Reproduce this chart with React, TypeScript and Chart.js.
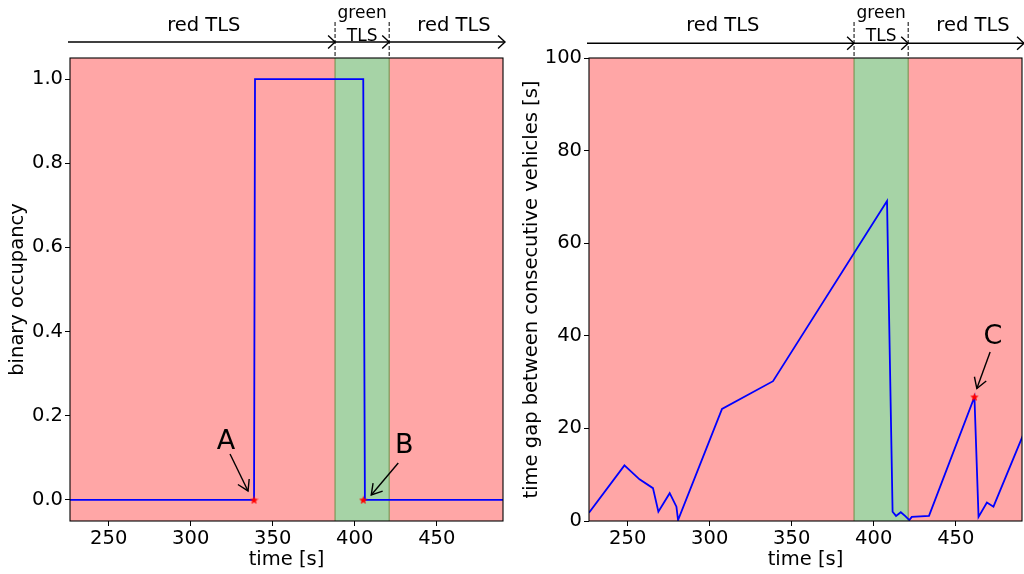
import React, { useEffect, useRef } from "react";
import { Chart, registerables } from "chart.js";

Chart.register(...registerables);

// ---------- data ----------
const xTicks = [250, 300, 350, 400, 450];
const occTicks = [0, 0.2, 0.4, 0.6, 0.8, 1.0];
const gapTicks = [0, 20, 40, 60, 80, 100];
const timeMin = 226.4;
const timeMax = 490.4;
const occMin = -0.05;
const occMax = 1.05;
const gapMin = 0;
const gapMax = 100;
const greenStart = 388;
const greenEnd = 421;

const occTime = [220, 338.6, 339.2, 405.2, 406.2, 500];
const occValue = [0, 0, 1, 1, 0, 0];

const gapTime = [226.4, 248, 257.2, 265.4, 268.7, 275.6, 279.7, 280.7, 307.5, 338.6, 408.1, 411.5, 413.6, 416.5, 419.1, 421.7, 423.2, 433.7, 461.4, 463.9, 469, 473, 491];
const gapValue = [1.8, 12, 9.0, 7.1, 2.0, 6.0, 3.1, 0.2, 24.2, 30.2, 69.1, 2.0, 1.1, 1.9, 1.1, 0.2, 0.9, 1.1, 26.8, 0.9, 4.0, 3.1, 18.5];

const occMarkLabels = ["A", "B"];
const occMarkTime = [338.6, 405.2];
const occMarkValue = [0, 0];

const gapMarkLabels = ["C"];
const gapMarkTime = [461.4];
const gapMarkValue = [26.8];

const phaseLabelTime = [308, 404.5, 460.5];
const phaseLabels = ["red TLS", "green|TLS", "red TLS"];

// ---------- styles ----------
const FONT = "DejaVu Sans";
const RED_FILL = "rgb(255,166,166)";
const GREEN_FILL = "rgb(166,211,166)";
const GREEN_EDGE = "rgb(112,140,70)";

// pixel offsets of annotation text / arrow tail / arrow tip relative to marker
const annotOffsets: Record<string, number[]> = {
  A: [-28, -58, -24, -46, -6, -9],
  B: [41, -54, 35, -37, 8, -5],
  C: [18.5, -60, 15.7, -45, 2.4, -8.4],
};

function drawHead(ctx: CanvasRenderingContext2D, tx: number, ty: number, fx: number, fy: number, len: number, half: number) {
  const ang = Math.atan2(ty - fy, tx - fx);
  ctx.beginPath();
  ctx.moveTo(tx - len * Math.cos(ang - half), ty - len * Math.sin(ang - half));
  ctx.lineTo(tx, ty);
  ctx.lineTo(tx - len * Math.cos(ang + half), ty - len * Math.sin(ang + half));
  ctx.stroke();
}

function makeStar(size: number, color: string) {
  const c = document.createElement("canvas");
  c.width = size;
  c.height = size;
  const ctx = c.getContext("2d")!;
  ctx.fillStyle = color;
  ctx.beginPath();
  const cx = size / 2, cy = size / 2 + 0.4, R = size / 2, r = R * 0.42;
  for (let i = 0; i < 10; i++) {
    const a = -Math.PI / 2 + (i * Math.PI) / 5;
    const rad = i % 2 ? r : R;
    const px = cx + rad * Math.cos(a), py = cy + rad * Math.sin(a);
    if (i === 0) ctx.moveTo(px, py); else ctx.lineTo(px, py);
  }
  ctx.closePath();
  ctx.fill();
  return c;
}

function overlay(key: string, arrowGap: number, marks: { labels: string[]; t: number[]; v: number[] }) {
  return {
    id: "overlay" + key,
    beforeDatasetsDraw(chart: any) {
      const { ctx, chartArea: a, scales } = chart;
      const x = scales.x;
      const g0 = x.getPixelForValue(greenStart);
      const g1 = x.getPixelForValue(greenEnd);
      ctx.save();
      ctx.fillStyle = RED_FILL;
      ctx.fillRect(a.left, a.top, g0 - a.left, a.bottom - a.top);
      ctx.fillRect(g1, a.top, a.right - g1, a.bottom - a.top);
      ctx.fillStyle = GREEN_FILL;
      ctx.fillRect(g0, a.top, g1 - g0, a.bottom - a.top);
      ctx.strokeStyle = GREEN_EDGE;
      ctx.lineWidth = 1;
      [g0, g1].forEach((px) => {
        ctx.beginPath();
        ctx.moveTo(px, a.top);
        ctx.lineTo(px, a.bottom);
        ctx.stroke();
      });
      ctx.restore();
    },
    afterDraw(chart: any) {
      const { ctx, chartArea: a, scales } = chart;
      const x = scales.x, y = scales.y;
      ctx.save();
      ctx.strokeStyle = "black";
      ctx.lineWidth = 1.1;
      ctx.strokeRect(a.left, a.top, a.right - a.left, a.bottom - a.top);

      const g0 = x.getPixelForValue(greenStart);
      const g1 = x.getPixelForValue(greenEnd);
      const ay = a.top - arrowGap;
      const segs = [[a.left - 2, g0], [g0, g1], [g1, a.right + 2]];
      ctx.lineWidth = 1.4;
      segs.forEach(([s, e]) => {
        ctx.beginPath();
        ctx.moveTo(s, ay);
        ctx.lineTo(e, ay);
        ctx.stroke();
        drawHead(ctx, e, ay, s, ay, 9.5, 0.75);
      });
      ctx.lineWidth = 1;
      ctx.setLineDash([4, 2]);
      [g0, g1].forEach((px) => {
        ctx.beginPath();
        ctx.moveTo(px, 22);
        ctx.lineTo(px, a.top);
        ctx.stroke();
      });
      ctx.setLineDash([]);
      ctx.fillStyle = "black";
      ctx.textAlign = "center";
      ctx.textBaseline = "alphabetic";
      phaseLabels.forEach((lab, i) => {
        const px = x.getPixelForValue(phaseLabelTime[i]);
        if (lab.includes("|")) {
          const [l1, l2] = lab.split("|");
          ctx.font = `17px "${FONT}"`;
          ctx.fillText(l1, px, a.top - 39.7);
          ctx.fillText(l2, px, a.top - 17.3);
        } else {
          ctx.font = `19.5px "${FONT}"`;
          ctx.fillText(lab, px, a.top - 27.3);
        }
      });

      marks.labels.forEach((lab, i) => {
        const o = annotOffsets[lab];
        const px = x.getPixelForValue(marks.t[i]);
        const py = y.getPixelForValue(marks.v[i]);
        ctx.font = `27px "${FONT}"`;
        ctx.textBaseline = "middle";
        ctx.fillText(lab, px + o[0], py + o[1]);
        ctx.lineWidth = 1.4;
        ctx.beginPath();
        ctx.moveTo(px + o[2], py + o[3]);
        ctx.lineTo(px + o[4], py + o[5]);
        ctx.stroke();
        drawHead(ctx, px + o[4], py + o[5], px + o[2], py + o[3], 12, 0.55);
      });
      ctx.restore();
    },
  };
}

function baseScales(yTicks: number[], yMin: number, yMax: number, yTitle: string, yWidth: number, yTitlePad: number, yFmt: (v: number) => string) {
  const tickFont = { family: FONT, size: 19.5 };
  return {
    x: {
      type: "linear",
      min: timeMin,
      max: timeMax,
      afterBuildTicks: (s: any) => { s.ticks = xTicks.map((v) => ({ value: v })); },
      afterFit: (s: any) => { s.height = 53; },
      ticks: { font: tickFont, color: "black", padding: 1, maxRotation: 0, autoSkip: false, callback: (v: any) => String(v) },
      grid: { drawOnChartArea: false, drawTicks: true, tickLength: 5, color: "black", lineWidth: 1 },
      border: { display: false },
      title: { display: true, text: "time [s]", font: tickFont, color: "black", padding: { top: 0, bottom: 2 } },
    },
    y: {
      type: "linear",
      min: yMin,
      max: yMax,
      afterBuildTicks: (s: any) => { s.ticks = yTicks.map((v) => ({ value: v })); },
      afterFit: (s: any) => { s.width = yWidth; },
      ticks: { font: tickFont, color: "black", padding: 2, autoSkip: false, callback: (v: any) => yFmt(Number(v)) },
      grid: { drawOnChartArea: false, drawTicks: true, tickLength: 5, color: "black", lineWidth: 1 },
      border: { display: false },
      title: { display: true, text: yTitle, font: tickFont, color: "black", padding: { top: yTitlePad, bottom: 0 } },
    },
  };
}

function Panel(props: { which: "occ" | "gap"; left: number; width: number }) {
  const ref = useRef<HTMLCanvasElement>(null);
  useEffect(() => {
    const star = makeStar(9, "red");
    const isOcc = props.which === "occ";
    const lineT = isOcc ? occTime : gapTime;
    const lineV = isOcc ? occValue : gapValue;
    const marks = isOcc
      ? { labels: occMarkLabels, t: occMarkTime, v: occMarkValue }
      : { labels: gapMarkLabels, t: gapMarkTime, v: gapMarkValue };
    const scales = isOcc
      ? baseScales(occTicks, occMin, occMax, "binary occupancy", 70, 6, (v) => v.toFixed(1))
      : baseScales(gapTicks, gapMin, gapMax, "time gap between consecutive vehicles [s]", 77, 8.5, (v) => String(Math.round(v)));
    const chart = new Chart(ref.current!, {
      type: "scatter",
      data: {
        datasets: [
          {
            data: marks.t.map((t, i) => ({ x: t, y: marks.v[i] })),
            pointStyle: star as any,
            pointRadius: 5,
            showLine: false,
            order: 0,
          } as any,
          {
            data: lineT.map((t, i) => ({ x: t, y: lineV[i] })),
            showLine: true,
            borderColor: "blue",
            borderWidth: 1.8,
            pointRadius: 0,
            fill: false,
            tension: 0,
            clip: 0,
            order: 1,
          } as any,
        ],
      },
      options: {
        responsive: false,
        animation: false,
        events: [],
        layout: { padding: { top: 58, right: isOcc ? 9 : 2, left: 0, bottom: 0 } },
        plugins: { legend: { display: false }, tooltip: { enabled: false } },
        scales: scales as any,
      },
      plugins: [overlay(props.which, isOcc ? 16 : 14.7, marks)],
    });
    return () => chart.destroy();
  }, [props.which]);
  return (
    <canvas
      ref={ref}
      width={props.width}
      height={574}
      style={{ position: "absolute", left: props.left, top: 0, width: props.width, height: 574 }}
    />
  );
}

export default function App() {
  return (
    <div style={{ position: "absolute", left: 0, top: 0, width: 1024, height: 574, background: "white", overflow: "hidden" }}>
      <Panel which="occ" left={0} width={512} />
      <Panel which="gap" left={512} width={516} />
    </div>
  );
}
